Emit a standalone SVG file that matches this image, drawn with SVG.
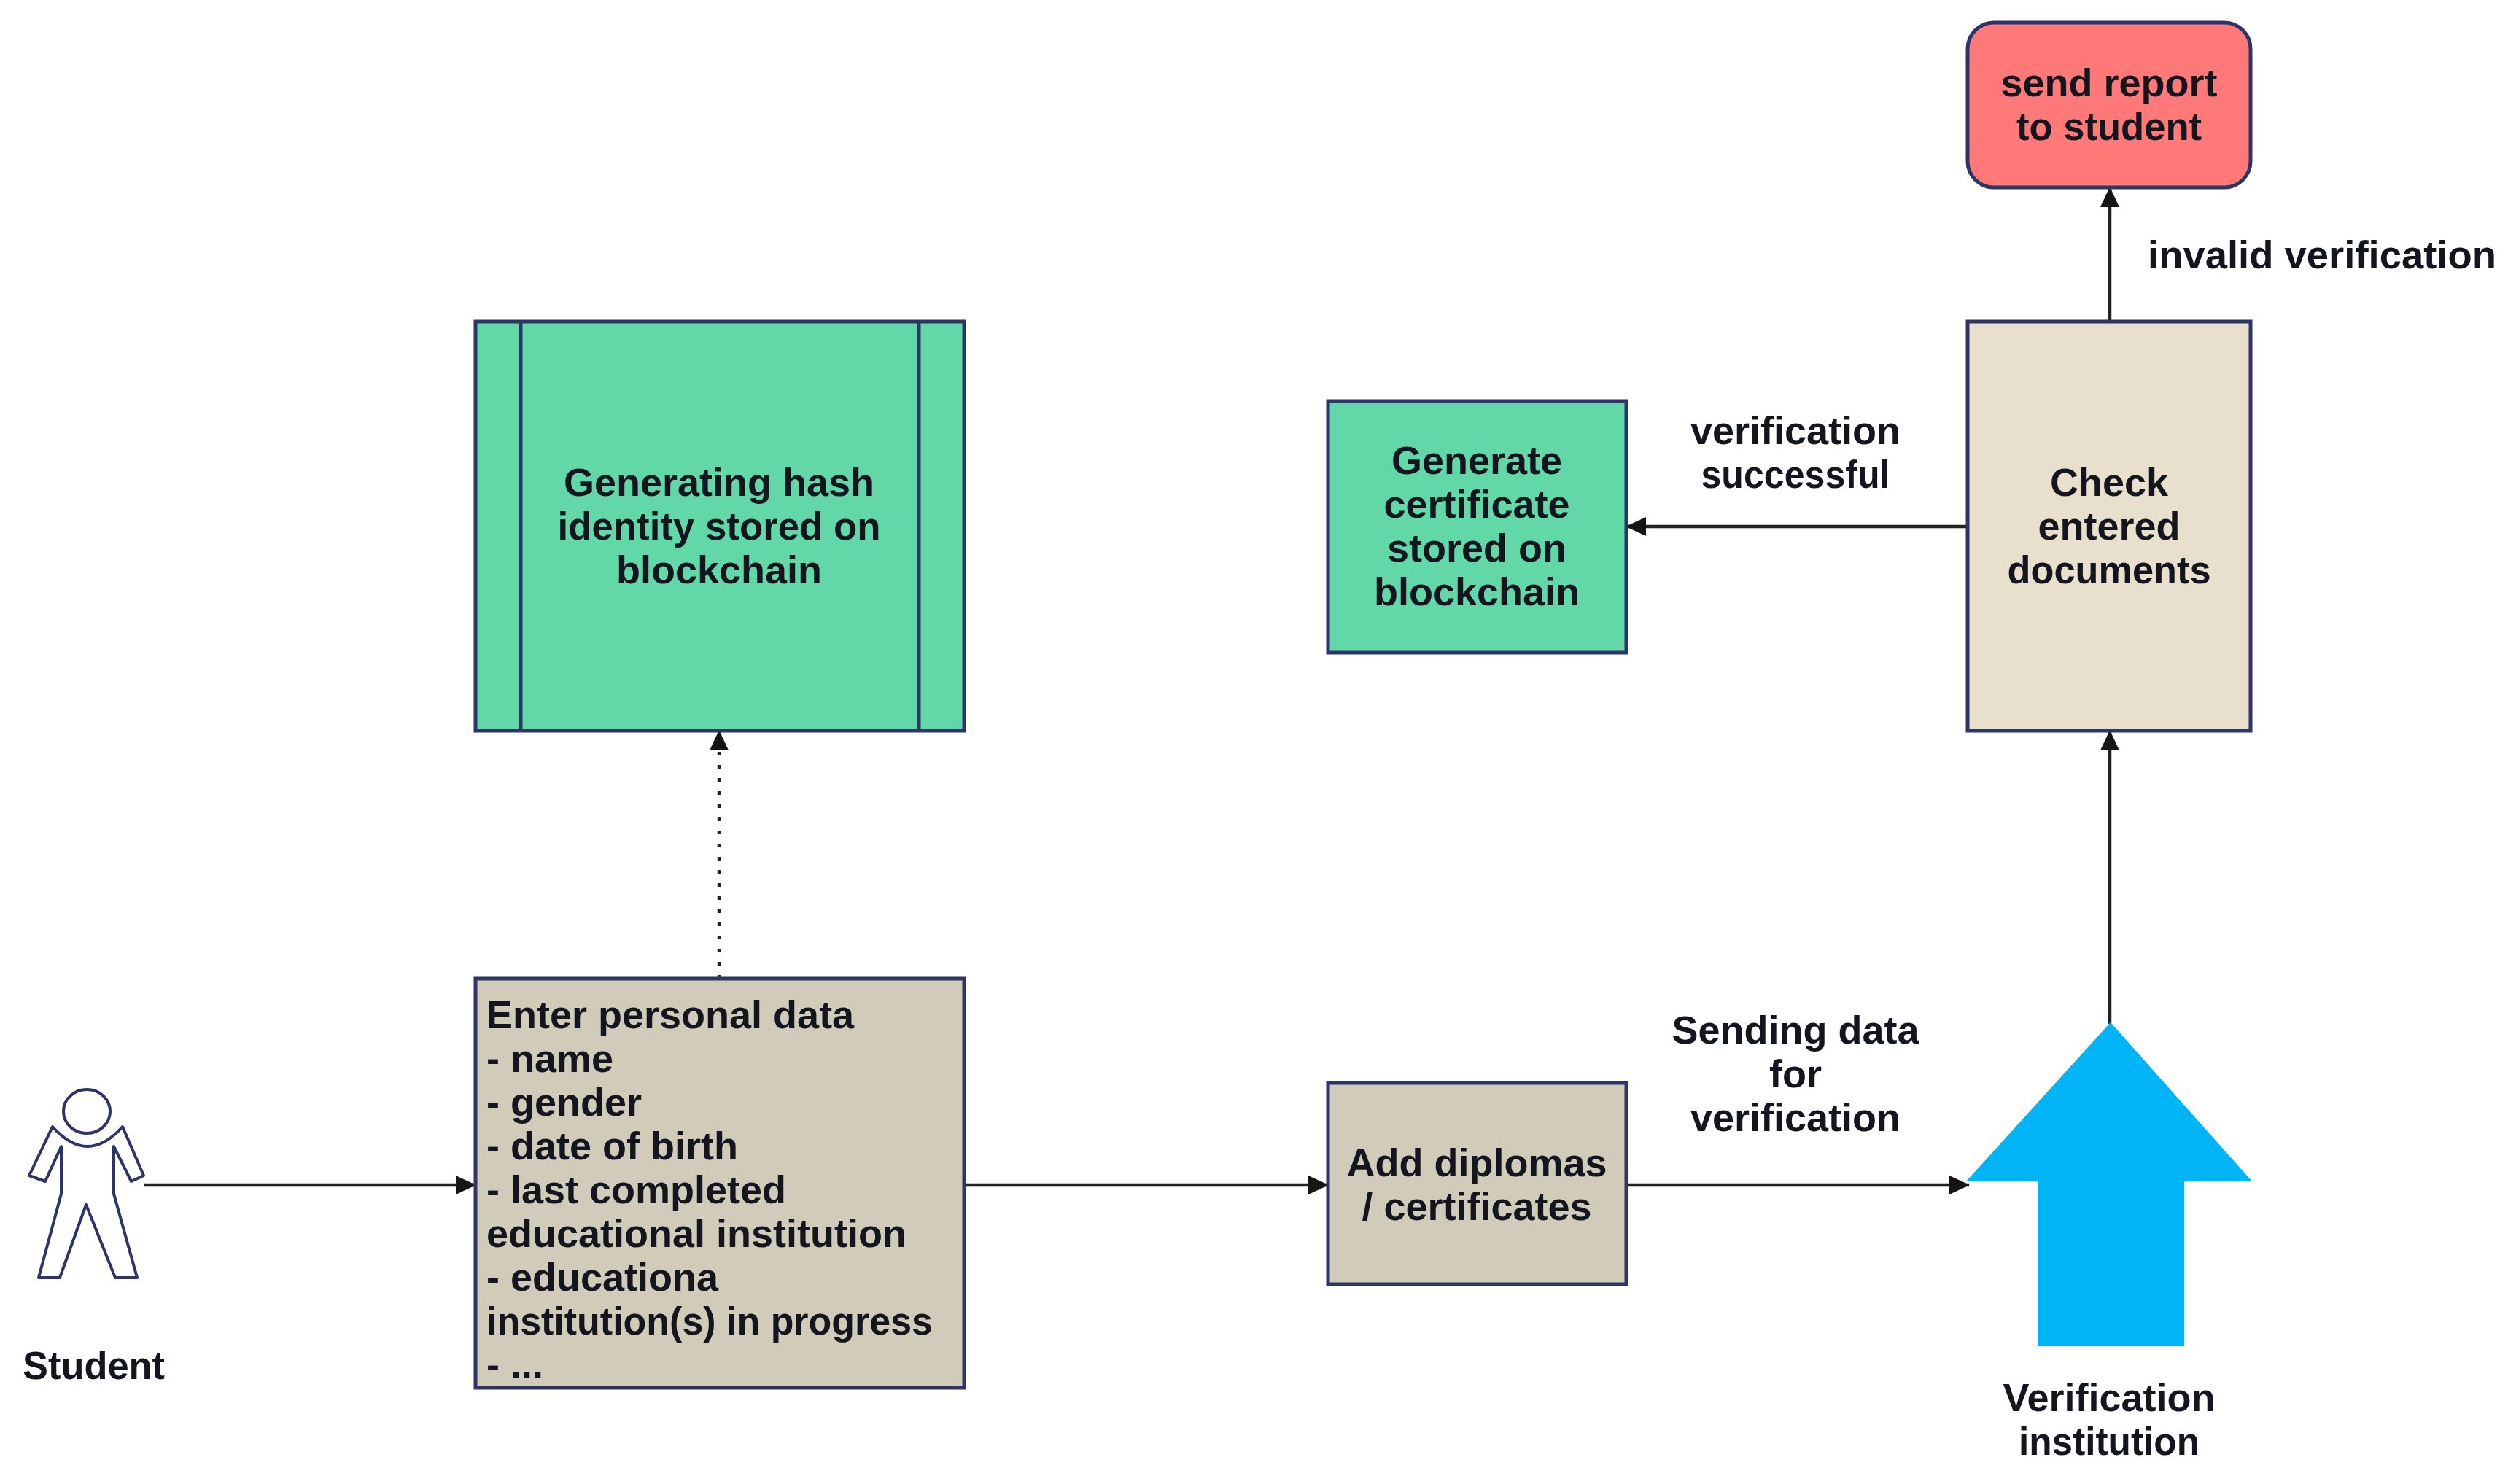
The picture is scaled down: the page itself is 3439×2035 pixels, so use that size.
<svg xmlns="http://www.w3.org/2000/svg" width="3439" height="2035" viewBox="0 0 3439 2035">
<style>
text{font-family:"Liberation Sans",Arial,sans-serif;font-weight:700;font-size:54px;fill:#14161f}
.c{text-anchor:middle}
.box{stroke:#2c3468;stroke-width:5}
.l{fill:none;stroke:#222;stroke-width:4.5}
</style>
<defs>
<marker id="a" markerUnits="userSpaceOnUse" markerWidth="28" markerHeight="26" refX="27" refY="13" orient="auto"><path d="M0 0L28 13L0 26Z" fill="#151515"/></marker>
</defs>
<rect width="3439" height="2035" fill="#fff"/>
<g id="connectors">
<path class="l" d="M198 1625H652" marker-end="url(#a)"/>
<path class="l" d="M1322 1625H1821" marker-end="url(#a)"/>
<path class="l" d="M2230 1625H2700" marker-end="url(#a)"/>
<path class="l" d="M986 1342V1002" stroke-dasharray="5 13" marker-end="url(#a)"/>
<path class="l" d="M2893 1404V1002" marker-end="url(#a)"/>
<path class="l" d="M2893 441V257" marker-end="url(#a)"/>
<path class="l" d="M2698 722H2230" marker-end="url(#a)"/>
</g>
<g id="student">
<ellipse cx="119" cy="1524" rx="32" ry="30" fill="#fff" stroke="#2c3468" stroke-width="4"/>
<path d="M72 1545L40 1612L62 1620L84 1572V1637L53 1752H82L118 1652L158 1752H188L156 1637V1572L180 1620L197 1612L168 1545Q120 1599 72 1545Z" fill="#fff" stroke="#2c3468" stroke-width="4" stroke-linejoin="round"/>
<text x="31" y="1891" textLength="195" lengthAdjust="spacingAndGlyphs">Student</text>
</g>
<g id="hash">
<rect class="box" x="652" y="441" width="670" height="561" fill="#62d8a9"/>
<path class="box" d="M714 441V1002M1260 441V1002" fill="none"/>
<text class="c" x="986" y="680">Generating hash</text>
<text class="c" x="986" y="740" textLength="443" lengthAdjust="spacingAndGlyphs">identity stored on</text>
<text class="c" x="986" y="800">blockchain</text>
</g>
<g id="personal">
<rect class="box" x="652" y="1342" width="670" height="561" fill="#d0ccb9"/>
<text x="667" y="1410">Enter personal data</text>
<text x="667" y="1470">- name</text>
<text x="667" y="1530">- gender</text>
<text x="667" y="1590">- date of birth</text>
<text x="667" y="1650">- last completed</text>
<text x="667" y="1710">educational institution</text>
<text x="667" y="1770">- educationa</text>
<text x="667" y="1830" textLength="612" lengthAdjust="spacingAndGlyphs">institution(s) in progress</text>
<text x="667" y="1890">- ...</text>
</g>
<g id="diplomas">
<rect class="box" x="1821" y="1485" width="409" height="276" fill="#d0ccb9"/>
<text class="c" x="2025" y="1613">Add diplomas</text>
<text class="c" x="2025" y="1673">/ certificates</text>
</g>
<g id="certificate">
<rect class="box" x="1821" y="550" width="409" height="345" fill="#62d8a9"/>
<text class="c" x="2025" y="650">Generate</text>
<text class="c" x="2025" y="710">certificate</text>
<text class="c" x="2025" y="770">stored on</text>
<text class="c" x="2025" y="830">blockchain</text>
</g>
<g id="check">
<rect class="box" x="2698" y="441" width="388" height="561" fill="#e8dfcd"/>
<text class="c" x="2892" y="680">Check</text>
<text class="c" x="2892" y="740">entered</text>
<text class="c" x="2892" y="800" textLength="279" lengthAdjust="spacingAndGlyphs">documents</text>
</g>
<g id="report">
<rect class="box" x="2698" y="31" width="388" height="226" rx="36" fill="#ff7979"/>
<text class="c" x="2892" y="132">send report</text>
<text class="c" x="2892" y="192" textLength="254" lengthAdjust="spacingAndGlyphs">to student</text>
</g>
<g id="institution">
<path d="M2894 1402L3088 1620H2995V1846H2794V1620H2696Z" fill="#00b4f5"/>
<text class="c" x="2892" y="1935">Verification</text>
<text class="c" x="2892" y="1995" textLength="248" lengthAdjust="spacingAndGlyphs">institution</text>
</g>
<g id="labels">
<text x="2945" y="368" textLength="478" lengthAdjust="spacingAndGlyphs">invalid verification</text>
<text class="c" x="2462" y="609">verification</text>
<text class="c" x="2462" y="669" textLength="259" lengthAdjust="spacingAndGlyphs">successful</text>
<text class="c" x="2462" y="1431">Sending data</text>
<text class="c" x="2462" y="1491">for</text>
<text class="c" x="2462" y="1551">verification</text>
</g>
</svg>
